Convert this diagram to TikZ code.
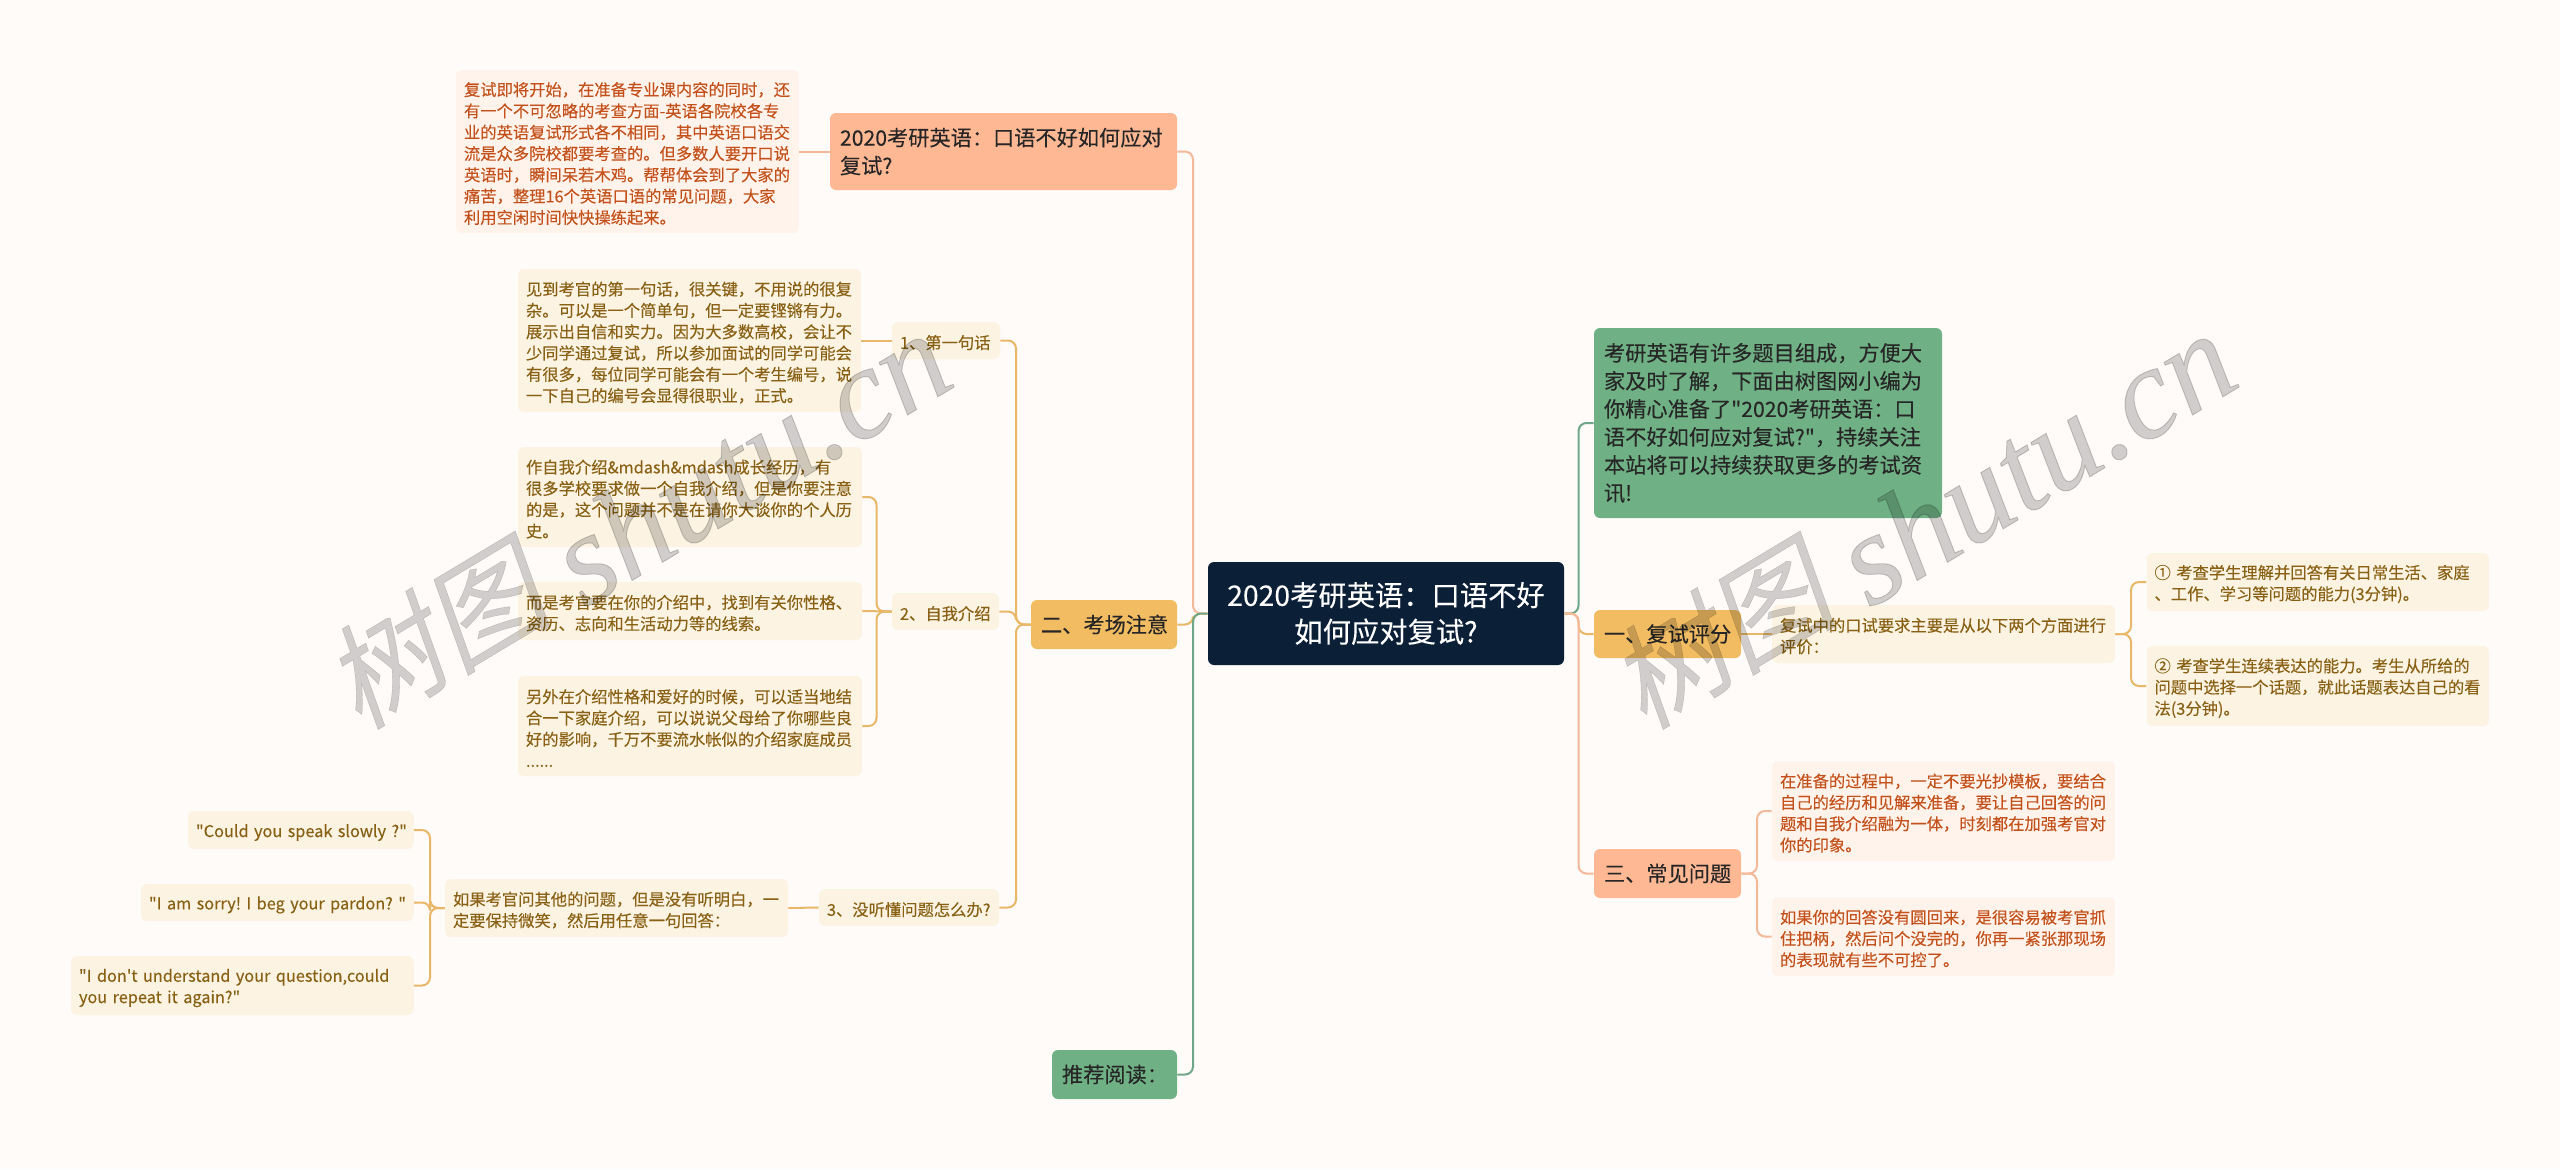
\documentclass[tikz,border=0pt]{standalone}
\usepackage{fontspec}
\newfontfamily\mainf[FakeBold=0.15]{Noto Sans CJK SC}
\newfontfamily\wmlatin[FakeBold=0.7]{Liberation Serif}
\newfontfamily\wmcjk[FakeSlant=0.2,FakeBold=0.3]{Noto Sans CJK SC}
\usetikzlibrary{calc}
\definecolor{bgc}{HTML}{FFFBF9}
\definecolor{rootc}{HTML}{0B2037}
\definecolor{peach}{HTML}{FFB894}
\definecolor{gold}{HTML}{F2BC62}
\definecolor{greenb}{HTML}{6FB084}
\definecolor{lpeach}{HTML}{FFF3EB}
\definecolor{lgold}{HTML}{FCF3E3}
\definecolor{tpeach}{HTML}{C4511B}
\definecolor{tgold}{HTML}{8A6114}
\definecolor{lpe}{HTML}{F5B999}
\definecolor{lgo}{HTML}{E8B868}
\definecolor{lgr}{HTML}{6FA888}
\tikzset{
  box/.style={rounded corners=3pt,align=left,inner ysep=0pt,inner xsep=0pt},
  small/.style={box,font=\mainf\fontsize{8.15}{10.65}\selectfont,execute at begin node={\frenchspacing\rule{0pt}{1.1em}}},
  big/.style={box,text=black!85,font=\mainf\fontsize{10.6}{14}\selectfont},
  leafp/.style={small,fill=lpeach,text=tpeach},
  leafg/.style={small,fill=lgold,text=tgold},
  bigp/.style={big,fill=peach},
  bigg/.style={big,fill=gold},
  bigr/.style={big,fill=greenb},
  rootbox/.style={box,fill=rootc,text=white,align=center,font=\mainf\fontsize{14.15}{18.3}\selectfont},
  cp/.style={draw=lpe,line width=1pt,rounded corners=4pt},
  cg/.style={draw=lgo,line width=1pt,rounded corners=4pt},
  cr/.style={draw=lgr,line width=1pt,rounded corners=4pt},
  wm/.style={text=black,opacity=0.18,rotate=31}
}
\newcommand\wmtext{\raisebox{6pt}{\wmcjk\fontsize{57}{57}\selectfont 树图}\hspace{14pt}{\wmlatin\itshape\fontsize{65}{65}\selectfont shutu.cn}}
% name, style, x0,y0,x1,y1, inset, text
\newcommand\bx[8]{%
  \pgfmathsetmacro\bw{(#5-#3)*0.5}%
  \pgfmathsetmacro\bh{(#6-#4)*0.5}%
  \pgfmathsetmacro\bt{(#5-#3-2*#7)*0.5}%
  \node[#2,minimum width=\bw pt,minimum height=\bh pt,text width=\bt pt] (#1) at ({(#3+#5)/2},{(#4+#6)/2}) {#8};%
}
\begin{document}
\begin{tikzpicture}[x=0.5pt,y=-0.5pt]
\fill[bgc] (0,0) rectangle (2560,1169);
\useasboundingbox (0,0) rectangle (2560,1169);
% trunk coordinates
\coordinate (tl) at (1193,0);
\coordinate (tr) at (1578.5,0);
\coordinate (t2) at (1016,0);
\coordinate (t3) at (876.5,0);
\coordinate (t4) at (430,0);
\coordinate (t5) at (2131,0);
\coordinate (t6) at (1757,0);
% nodes
\bx{root}{rootbox}{1208}{562}{1564}{665}{8}{2020考研英语：口语不好\\如何应对复试?}
\bx{b}{bigp}{830}{113}{1177}{190}{10}{2020考研英语：口语不好如何应对\\复试?}
\bx{a}{leafp}{456}{70}{799}{233}{8}{复试即将开始，在准备专业课内容的同时，还\\有一个不可忽略的考查方面-英语各院校各专\\业的英语复试形式各不相同，其中英语口语交\\流是众多院校都要考查的。但多数人要开口说\\英语时，瞬间呆若木鸡。帮帮体会到了大家的\\痛苦，整理16个英语口语的常见问题，大家\\利用空闲时间快快操练起来。}
\bx{i}{bigg}{1031}{600}{1177}{649}{10}{二、考场注意}
\bx{d}{leafg}{892}{322}{1000}{359}{8}{1、第一句话}
\bx{c}{leafg}{518}{269}{861}{412}{8}{见到考官的第一句话，很关键，不用说的很复\\杂。可以是一个简单句，但一定要铿锵有力。\\展示出自信和实力。因为大多数高校，会让不\\少同学通过复试，所以参加面试的同学可能会\\有很多，每位同学可能会有一个考生编号，说\\一下自己的编号会显得很职业，正式。}
\bx{h}{leafg}{892}{593}{999}{630}{8}{2、自我介绍}
\bx{e}{leafg}{518}{447}{862}{547}{8}{作自我介绍\&mdash\&mdash成长经历，有\\很多学校要求做一个自我介绍，但是你要注意\\的是，这个问题并不是在请你大谈你的个人历\\史。}
\bx{f}{leafg}{518}{582}{862}{640}{8}{而是考官要在你的介绍中，找到有关你性格、\\资历、志向和生活动力等的线索。}
\bx{g}{leafg}{518}{676}{862}{776}{8}{另外在介绍性格和爱好的时候，可以适当地结\\合一下家庭介绍，可以说说父母给了你哪些良\\好的影响，千万不要流水帐似的介绍家庭成员\\......}
\bx{n}{leafg}{819}{889}{999}{926}{8}{3、没听懂问题怎么办?}
\bx{m}{leafg}{445}{879}{788}{937}{8}{如果考官问其他的问题，但是没有听明白，一\\定要保持微笑，然后用任意一句回答：}
\bx{j}{leafg}{188}{811}{413.5}{849}{8}{\mbox{"Could you speak slowly ?"}}
\bx{k}{leafg}{141}{884}{413.5}{921}{8}{\mbox{"I am sorry! I beg your pardon? "}}
\bx{l}{leafg}{71}{956}{413.5}{1015}{8}{\mbox{"I don't understand your question,could}\\\mbox{you repeat it again?"}}
\bx{o}{bigr}{1052}{1050}{1177}{1099}{10}{推荐阅读：}
\bx{p}{bigr}{1594}{328}{1942}{518}{10}{考研英语有许多题目组成，方便大\\家及时了解，下面由树图网小编为\\你精心准备了"2020考研英语：口\\语不好如何应对复试?"，持续关注\\本站将可以持续获取更多的考试资\\讯!}
\bx{q}{bigg}{1594}{610}{1741}{658}{10}{一、复试评分}
\bx{r}{leafg}{1772}{605}{2115}{663}{8}{复试中的口试要求主要是从以下两个方面进行\\评价：}
\bx{s}{leafg}{2146.5}{553}{2489}{611}{8}{① 考查学生理解并回答有关日常生活、家庭\\、工作、学习等问题的能力(3分钟)。}
\bx{t}{leafg}{2146.5}{646}{2489}{726}{8}{② 考查学生连续表达的能力。考生从所给的\\问题中选择一个话题，就此话题表达自己的看\\法(3分钟)。}
\bx{u}{bigp}{1594}{849}{1741}{898}{10}{三、常见问题}
\bx{v}{leafp}{1772}{761}{2115}{861}{8}{在准备的过程中，一定不要光抄模板，要结合\\自己的经历和见解来准备，要让自己回答的问\\题和自我介绍融为一体，时刻都在加强考官对\\你的印象。}
\bx{w}{leafp}{1772}{897}{2115}{976}{8}{如果你的回答没有圆回来，是很容易被考官抓\\住把柄，然后问个没完的，你再一紧张那现场\\的表现就有些不可控了。}
% connectors
\draw[cp] (root.west) -- (tl |- root.west) -- (tl |- b.east) -- (b.east);
\draw[cg] (root.west) -- (tl |- root.west) -- (tl |- i.east) -- (i.east);
\draw[cr] (root.west) -- (tl |- root.west) -- (tl |- o.east) -- (o.east);
\draw[cp] (b.west) -- (a.east);
\draw[cr] (root.east) -- (tr |- root.east) -- (tr |- p.west) -- (p.west);
\draw[cg] (root.east) -- (tr |- root.east) -- (tr |- q.west) -- (q.west);
\draw[cp] (root.east) -- (tr |- root.east) -- (tr |- u.west) -- (u.west);
\draw[cg] (i.west) -- (t2 |- i.west) -- (t2 |- d.east) -- (d.east);
\draw[cg] (i.west) -- (t2 |- i.west) -- (t2 |- h.east) -- (h.east);
\draw[cg] (i.west) -- (t2 |- i.west) -- (t2 |- n.east) -- (n.east);
\draw[cg] (d.west) -- (c.east);
\draw[cg] (h.west) -- (t3 |- h.west) -- (t3 |- e.east) -- (e.east);
\draw[cg] (h.west) -- (f.east);
\draw[cg] (h.west) -- (t3 |- h.west) -- (t3 |- g.east) -- (g.east);
\draw[cg] (n.west) -- (m.east);
\draw[cg] (m.west) -- (t4 |- m.west) -- (t4 |- j.east) -- (j.east);
\draw[cg] (m.west) -- (t4 |- m.west) -- (t4 |- k.east) -- (k.east);
\draw[cg] (m.west) -- (t4 |- m.west) -- (t4 |- l.east) -- (l.east);
\draw[cg] (q.east) -- (r.west);
\draw[cg] (r.east) -- (t5 |- r.east) -- (t5 |- s.west) -- (s.west);
\draw[cg] (r.east) -- (t5 |- r.east) -- (t5 |- t.west) -- (t.west);
\draw[cp] (u.east) -- (t6 |- u.east) -- (t6 |- v.west) -- (v.west);
\draw[cp] (u.east) -- (t6 |- u.east) -- (t6 |- w.west) -- (w.west);
% watermarks
\node[wm] (wm1) at (635,517) {\wmtext};
\node[wm] (wm2) at (1920,517) {\wmtext};
\end{tikzpicture}
\end{document}
